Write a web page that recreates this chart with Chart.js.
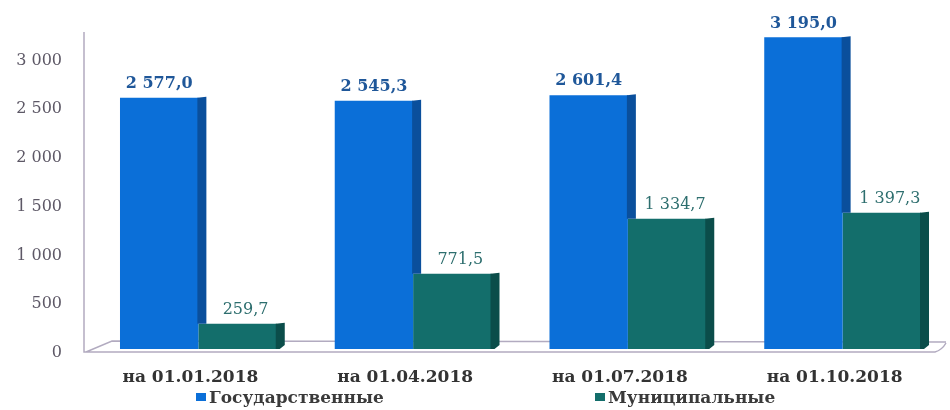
<!DOCTYPE html>
<html lang="ru">
<head>
<meta charset="utf-8">
<title>Государственные и муниципальные</title>
<script src="https://cdn.jsdelivr.net/npm/chart.js@4/dist/chart.umd.min.js"></script>
<style>
  body { margin: 0; background: #fff; }
  #wrap { position: relative; width: 950px; height: 410px; }
  .leg { position: absolute; top: 387px; font: bold 17px 'DejaVu Serif', serif; color: #3a3a3a; white-space: nowrap; }
  .leg i { display: inline-block; width: 10px; height: 8px; margin-right: 3px; vertical-align: 2px; }
</style>
</head>
<body>
<div id="wrap">
  <canvas id="chart"></canvas>
  <div class="leg" style="left:196px"><i id="sw0"></i><span id="lg0"></span></div>
  <div class="leg" style="left:595px"><i id="sw1"></i><span id="lg1"></span></div>
</div>
<script>
const categories = ['на 01.01.2018', 'на 01.04.2018', 'на 01.07.2018', 'на 01.10.2018'];
const seriesNames = ['Государственные', 'Муниципальные'];
const stateValues = [2577.0, 2545.3, 2601.4, 3195.0];
const municipalValues = [259.7, 771.5, 1334.7, 1397.3];
const yTicks = [0, 500, 1000, 1500, 2000, 2500, 3000];
const yMax = 3250;

const colors = ['#0b6fd8', '#136e6b'];
const sideColors = ['#0a4f9c', '#0b4d4a'];
const labelColors = ['#1f5799', '#2d6e6e'];

function $(sel){ return document.querySelector(sel); }

function groupDigits(s){ return s.replace(/\B(?=(\d{3})+(?!\d))/g, ' '); }
function fmtTick(v){ return groupDigits(String(v)); }
function fmtVal(v){
  const parts = v.toFixed(1).split('.');
  return groupDigits(parts[0]) + ',' + parts[1];
}

// 3D-ish floor, y axis line, bar sides and value labels
const decor = {
  id: 'decor',
  beforeDatasetsDraw(chart){
    const {ctx, chartArea: a} = chart;
    const ax = a.left - 7;
    ctx.save();
    ctx.strokeStyle = '#b2abc0';
    ctx.lineWidth = 1.5;
    ctx.beginPath();
    ctx.moveTo(ax, a.top);
    ctx.lineTo(ax, a.bottom + 3);
    ctx.lineTo(a.right - 15, a.bottom + 3);
    ctx.quadraticCurveTo(a.right - 8, a.bottom + 1, a.right - 4, a.bottom - 6);
    ctx.moveTo(ax + 2, a.bottom + 3);
    ctx.lineTo(ax + 28, a.bottom - 8);
    ctx.lineTo(a.right - 4, a.bottom - 7);
    ctx.stroke();
    ctx.restore();
  },
  afterDatasetsDraw(chart){
    const {ctx} = chart;
    const m0 = chart.getDatasetMeta(0).data;
    const m1 = chart.getDatasetMeta(1).data;
    const side = 8;
    ctx.save();
    m0.forEach((b, i) => {
      const right = b.x + b.width / 2;
      const low = Math.min(b.base, m1[i].y);
      if (low > b.y) {
        ctx.fillStyle = sideColors[0];
        ctx.beginPath();
        ctx.moveTo(right - 1, b.y);
        ctx.lineTo(right + side, b.y - 1);
        ctx.lineTo(right + side, low);
        ctx.lineTo(right - 1, low);
        ctx.closePath();
        ctx.fill();
      }
    });
    m1.forEach(b => {
      const right = b.x + b.width / 2;
      ctx.fillStyle = sideColors[1];
      ctx.beginPath();
      ctx.moveTo(right - 1, b.y);
      ctx.lineTo(right + side, b.y - 1);
      ctx.lineTo(right + side, b.base - 4);
      ctx.lineTo(right + 3, b.base);
      ctx.lineTo(right - 1, b.base);
      ctx.closePath();
      ctx.fill();
    });
    ctx.textAlign = 'center';
    ctx.textBaseline = 'bottom';
    [m0, m1].forEach((bars, d) => {
      const vals = chart.data.datasets[d].data;
      ctx.font = (d === 0 ? 'bold ' : '') + '16px "DejaVu Serif"';
      ctx.fillStyle = labelColors[d];
      bars.forEach((b, i) => {
        ctx.fillText(fmtVal(vals[i]), b.x + (d === 1 ? 8 : 0), b.y - 6);
      });
    });
    ctx.restore();
  }
};

$('#lg0').textContent = seriesNames[0];
$('#lg1').textContent = seriesNames[1];
$('#sw0').style.background = colors[0];
$('#sw1').style.background = colors[1];

new Chart($('#chart'), {
  type: 'bar',
  data: {
    labels: categories,
    datasets: [
      { label: seriesNames[0], data: stateValues, backgroundColor: colors[0] },
      { label: seriesNames[1], data: municipalValues, backgroundColor: colors[1] }
    ]
  },
  options: {
    responsive: true,
    maintainAspectRatio: false,
    animation: false,
    categoryPercentage: 0.73,
    barPercentage: 1,
    layout: { padding: { top: 32, right: 0, bottom: 0, left: 0 } },
    plugins: { legend: { display: false }, tooltip: { enabled: false } },
    scales: {
      x: {
        grid: { display: false, drawTicks: false },
        border: { display: false },
        ticks: { padding: 18, labelOffset: -8, color: '#333', font: { family: 'DejaVu Serif', size: 17, weight: 'bold' } },
        afterFit(s){ s.height = 61; }
      },
      y: {
        min: 0, max: yMax,
        grid: { display: false, drawTicks: false },
        border: { display: false },
        afterBuildTicks(s){ s.ticks = yTicks.map(v => ({ value: v })); },
        ticks: { padding: 29, labelOffset: 4, color: '#5d5866', font: { family: 'DejaVu Serif', size: 16 }, callback: v => fmtTick(v) },
        afterFit(s){ s.width = 91; s.paddingTop = 0; s.paddingBottom = 0; }
      }
    }
  },
  plugins: [decor]
});
</script>
</body>
</html>
